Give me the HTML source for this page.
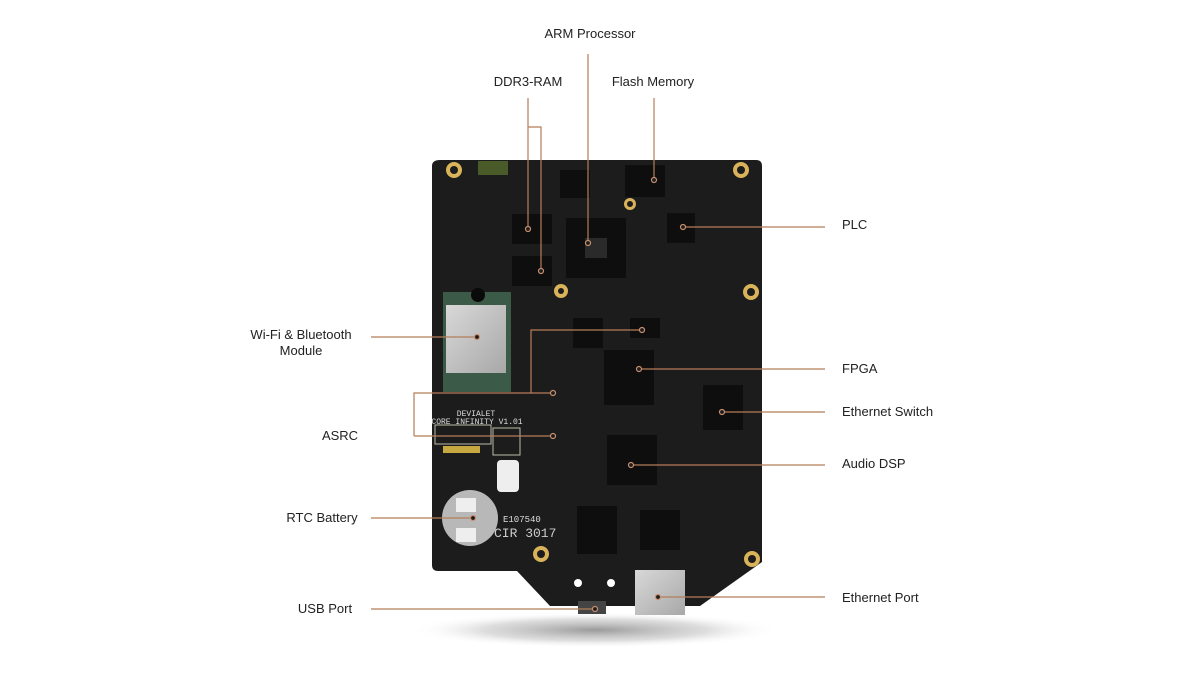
<!DOCTYPE html>
<html><head><meta charset="utf-8"><style>
html,body{margin:0;padding:0;background:#fff;}
body{width:1188px;height:699px;overflow:hidden;position:relative;font-family:"Liberation Sans",sans-serif;}
svg{position:absolute;left:0;top:0;}
</style></head><body>
<svg width="1188" height="699" viewBox="0 0 1188 699">
<defs>
<radialGradient id="sh" cx="50%" cy="50%" r="50%">
<stop offset="0" stop-color="#888" stop-opacity="0.85"/>
<stop offset="0.6" stop-color="#bbb" stop-opacity="0.5"/>
<stop offset="1" stop-color="#fff" stop-opacity="0"/>
</radialGradient>
<linearGradient id="met" x1="0" y1="0" x2="1" y2="1">
<stop offset="0" stop-color="#d8d8d8"/><stop offset="1" stop-color="#a8a8a8"/>
</linearGradient>
</defs>
<ellipse cx="595" cy="630" rx="185" ry="18" fill="url(#sh)"/>
<path d="M440 160 H756 Q762 160 762 166 V562 L700 606 H550 L517 571 H438 Q432 571 432 565 V166 Q432 160 440 160 Z" fill="#1c1c1c"/>
<g fill="#d9b35a"><circle cx="454" cy="170" r="8"/><circle cx="741" cy="170" r="8"/><circle cx="561" cy="291" r="7"/><circle cx="751" cy="292" r="8"/><circle cx="630" cy="204" r="6"/><circle cx="541" cy="554" r="8"/><circle cx="752" cy="559" r="8"/></g>
<g fill="#1c1c1c"><circle cx="454" cy="170" r="4"/><circle cx="741" cy="170" r="4"/><circle cx="561" cy="291" r="3"/><circle cx="751" cy="292" r="4"/><circle cx="630" cy="204" r="3"/><circle cx="541" cy="554" r="4"/><circle cx="752" cy="559" r="4"/></g>
<rect x="478" y="161" width="30" height="14" fill="#4a5a28"/>
<g fill="#0e0e0e">
<rect x="512" y="214" width="40" height="30"/><rect x="512" y="256" width="40" height="30"/>
<rect x="566" y="218" width="60" height="60"/><rect x="667" y="213" width="28" height="30"/>
<rect x="625" y="165" width="40" height="32"/><rect x="560" y="170" width="30" height="28"/>
<rect x="604" y="350" width="50" height="55"/><rect x="573" y="318" width="30" height="30"/>
<rect x="703" y="385" width="40" height="45"/><rect x="607" y="435" width="50" height="50"/>
<rect x="577" y="506" width="40" height="48"/><rect x="640" y="510" width="40" height="40"/>
<rect x="630" y="318" width="30" height="20"/>
</g>
<rect x="585" y="238" width="22" height="20" fill="#2a2a2a"/>
<rect x="443" y="292" width="68" height="100" fill="#3c5a48"/>
<rect x="446" y="305" width="60" height="68" fill="url(#met)"/>
<circle cx="478" cy="295" r="7" fill="#0a0a0a"/>
<text x="476" y="416" fill="#ddd" font-family="Liberation Mono,monospace" font-size="8" text-anchor="middle">DEVIALET</text>
<text x="477" y="424" fill="#ddd" font-family="Liberation Mono,monospace" font-size="8" text-anchor="middle">CORE INFINITY V1.01</text>
<rect x="435" y="425" width="56" height="19" fill="none" stroke="#bba" stroke-width="1"/>
<rect x="493" y="428" width="27" height="27" fill="none" stroke="#bba" stroke-width="1"/>
<rect x="443" y="446" width="37" height="7" fill="#c8a840"/>
<rect x="497" y="460" width="22" height="32" rx="4" fill="#eee"/>
<circle cx="470" cy="518" r="28" fill="#b8b8b8"/>
<rect x="456" y="498" width="20" height="14" fill="#eee"/><rect x="456" y="528" width="20" height="14" fill="#eee"/>
<text x="503" y="522" fill="#ddd" font-family="Liberation Mono,monospace" font-size="9">E107540</text>
<text x="494" y="537" fill="#ccc" font-family="Liberation Mono,monospace" font-size="13">CIR 3017</text>
<rect x="635" y="570" width="50" height="45" fill="url(#met)"/>
<rect x="578" y="601" width="28" height="13" fill="#444"/>
<g fill="#fff"><circle cx="578" cy="583" r="4"/><circle cx="611" cy="583" r="4"/></g>
<g stroke="#b57d58" stroke-width="1.2" fill="none">
<path d="M528 98 V229 M528 127 H541 V271"/>
<path d="M588 54 V243"/>
<path d="M654 98 V180"/>
<path d="M683 227 H825"/>
<path d="M371 337 H477"/>
<path d="M639 369 H825"/>
<path d="M722 412 H825"/>
<path d="M414 436 H553 M414 436 V393 H553 M531 393 V330 H642"/>
<path d="M631 465 H825"/>
<path d="M371 518 H473"/>
<path d="M371 609 H595"/>
<path d="M658 597 H825"/>
</g>
<g fill="#1c1c1c" stroke="#c89070" stroke-width="1.2">
<circle cx="528" cy="229" r="2.5"/><circle cx="541" cy="271" r="2.5"/><circle cx="588" cy="243" r="2.5"/><circle cx="654" cy="180" r="2.5"/><circle cx="683" cy="227" r="2.5"/><circle cx="477" cy="337" r="2.5"/><circle cx="639" cy="369" r="2.5"/><circle cx="722" cy="412" r="2.5"/><circle cx="553" cy="436" r="2.5"/><circle cx="553" cy="393" r="2.5"/><circle cx="642" cy="330" r="2.5"/><circle cx="631" cy="465" r="2.5"/><circle cx="473" cy="518" r="2.5"/><circle cx="595" cy="609" r="2.5"/><circle cx="658" cy="597" r="2.5"/>
</g>
<g font-family="Liberation Sans,sans-serif" font-size="13" fill="#222">
<text x="590" y="38" text-anchor="middle">ARM Processor</text>
<text x="528" y="86" text-anchor="middle">DDR3-RAM</text>
<text x="653" y="86" text-anchor="middle">Flash Memory</text>
<text x="842" y="229">PLC</text>
<text x="301" y="339" text-anchor="middle">Wi-Fi &amp; Bluetooth</text>
<text x="301" y="355" text-anchor="middle">Module</text>
<text x="842" y="373">FPGA</text>
<text x="842" y="416">Ethernet Switch</text>
<text x="340" y="440" text-anchor="middle">ASRC</text>
<text x="842" y="468">Audio DSP</text>
<text x="322" y="522" text-anchor="middle">RTC Battery</text>
<text x="325" y="613" text-anchor="middle">USB Port</text>
<text x="842" y="602">Ethernet Port</text>
</g>
</svg>
</body></html>
